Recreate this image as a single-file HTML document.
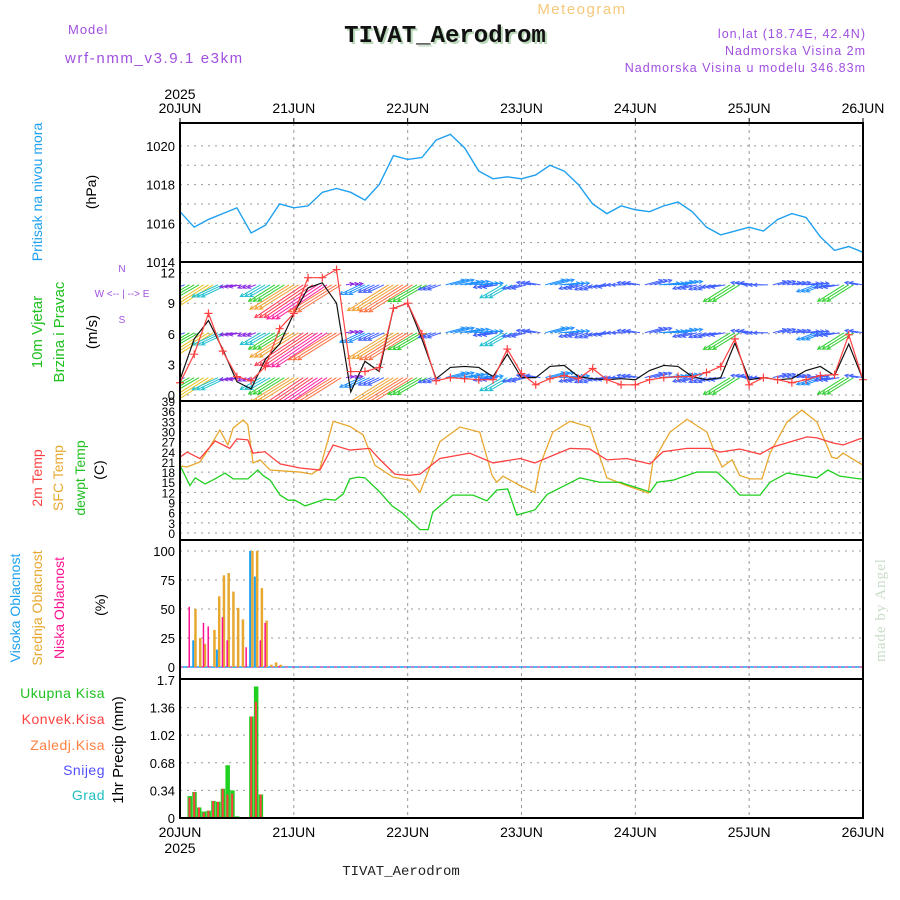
<!DOCTYPE html>
<html><head><meta charset="utf-8"><style>
body{margin:0;background:#fff;}
svg{display:block;font-family:"Liberation Sans",sans-serif;}
</style></head><body>
<svg id="c" width="900" height="900" viewBox="0 0 900 900" xmlns="http://www.w3.org/2000/svg">
<defs><clipPath id="wclip"><rect x="180" y="262" width="683" height="139"/></clipPath></defs>
<text x="582" y="14" font-size="15" fill="#f5c87a" text-anchor="middle" letter-spacing="1.5">Meteogram</text>
<text x="447" y="44" font-size="24" font-weight="bold" font-family="Liberation Mono,monospace" fill="#b8d8b8" text-anchor="middle">TIVAT_Aerodrom</text>
<text x="445" y="42" font-size="24" font-weight="bold" font-family="Liberation Mono,monospace" fill="#111" text-anchor="middle">TIVAT_Aerodrom</text>
<text x="68" y="34" font-size="13" fill="#a050e0" letter-spacing="1">Model</text>
<text x="65" y="63" font-size="15" fill="#a050e0" letter-spacing="1.6">wrf-nmm_v3.9.1 e3km</text>
<text x="866" y="38" font-size="12.5" fill="#a050e0" text-anchor="end" letter-spacing="1">lon,lat (18.74E, 42.4N)</text>
<text x="866" y="55" font-size="12.5" fill="#a050e0" text-anchor="end" letter-spacing="1">Nadmorska Visina 2m</text>
<text x="866" y="72" font-size="12.5" fill="#a050e0" text-anchor="end" letter-spacing="1">Nadmorska Visina u modelu 346.83m</text>
<text x="401" y="875" font-size="14" font-family="Liberation Mono,monospace" fill="#222" text-anchor="middle">TIVAT_Aerodrom</text>
<text transform="translate(885,610) rotate(-90)" font-size="15" font-family="Liberation Serif,serif" fill="#c8dcc8" text-anchor="middle" letter-spacing="1">made by Angel</text>
<g id="g"></g>
</svg>
<script>
// ---- data (time in hours from 20JUN 00) ----
const dayLabels=["20JUN","21JUN","22JUN","23JUN","24JUN","25JUN","26JUN"];
const pressTimes=[0,3,6,9,12,15,18,21,24,27,30,33,36,39,42,45,48,51,54,57,60,63,66,69,72,75,78,81,84,87,90,93,96,99,102,105,108,111,114,117,120,123,126,129,132,135,138,141,144];
const pressure=[1016.6,1015.8,1016.2,1016.5,1016.8,1015.5,1015.9,1017.0,1016.8,1016.9,1017.6,1017.8,1017.6,1017.2,1018.0,1019.5,1019.3,1019.4,1020.3,1020.6,1019.9,1018.7,1018.3,1018.4,1018.3,1018.5,1019.0,1018.7,1018.0,1017.0,1016.5,1016.9,1016.7,1016.6,1016.9,1017.1,1016.6,1015.8,1015.4,1015.6,1015.8,1015.6,1016.2,1016.5,1016.3,1015.3,1014.6,1014.8,1014.5];
const pressTicks=[1014,1016,1018,1020];
const windSpeed=[1.5,5.5,7.3,4.5,1.3,0.6,3.5,5,8,10.5,11,9,0.3,3.3,2.3,8.5,9,5.5,1.6,2.7,2.8,2.7,1.8,4.0,1.7,1.7,2.8,2.9,1.8,1.6,1.5,1.6,1.5,2.4,2.9,2.8,1.8,1.5,1.7,5.1,1.5,1.7,1.5,1.6,2.4,2.8,1.9,5,1.5];
const windGust=[1.2,4,8,4.3,1.8,1.4,2.8,6.5,8,11.5,11.5,12.3,2.3,2.3,2.7,8.5,9,6,1.4,1.7,1.6,1.5,1.5,4.5,2.1,1.0,1.6,1.9,1.6,2.6,1.5,1.0,1.0,1.5,1.7,1.8,1.8,2.2,2.8,5.5,1.0,1.7,1.5,1.2,1.5,1.9,2.0,5.9,1.5];
const windDir=[200,210,212,205,190,200,210,212,212,214,214,212,10,205,205,212,212,210,200,15,10,5,190,210,195,170,15,5,195,200,190,180,170,15,5,10,195,200,190,212,170,180,15,10,5,200,190,212,170];
const windTicks=[0,3,6,9,12];
const t2Times=[0,1.5,4.2,7.4,10.5,12,14.3,15.4,17.9,21.1,25.3,29.5,32.3,35.8,40,42.2,45.3,48.1,50.6,54.8,61.1,66,71.7,74.8,82.2,86.4,90,94.2,99.1,101.8,106.9,111.7,113.8,118,122.3,125,132.2,134.3,137.7,139.8,143.3,144];
const t2=[22.4,23.9,22,27.2,25,27.8,27.5,23.6,24,20.4,19.2,18.6,26,24.5,25,21.6,17.4,17,17.4,22,23.6,20.7,22,20.7,25,24.8,21.6,22,20.4,24,25,25,23.9,24.8,23.3,25.4,28.4,28.1,26.6,26,27.8,28];
const sfcTimes=[0,1.5,4.2,5.9,8.4,10.1,11.2,13.3,14.3,15.4,16.9,19,22.1,25.3,27.8,29.5,32.3,35.8,38.6,41.1,44.9,48.5,50.6,54.8,59,63.2,65.8,66.8,68.1,71.7,74.8,75.9,78.6,82.2,86.4,90,94.2,98.7,99.7,103.3,106.9,111.1,112.4,114.3,116.4,118,120.2,122.7,124.4,128,131.1,134.3,137.4,138.5,139.8,144];
const sfcTemp=[19.8,19.5,21,24.5,30.4,26,31,33.4,32,20.7,21.6,18.6,18.3,18,17.4,19,33,31.5,29,20,16.5,15.6,12,27,31.3,29.8,17,15,16.8,14,12,20,29.8,33,31.3,16.3,14,11.8,21,29.8,33.6,29.8,25,19.5,21.6,17,16,16,23.6,32.8,36.3,32.8,22.4,22,23.6,20];
const dewTimes=[0,2.1,3.2,5.3,7.4,9.5,11.2,14.3,16.4,17.5,19,21.1,22.8,24.2,26.4,30.6,32.7,34.4,35.8,37.5,39,42.2,44.7,46.8,50.6,52.3,53.3,57.5,61.8,64.7,66.8,69.1,71,74.8,77.4,82.2,84.3,88.5,92.8,99.1,100.6,103.9,109,113.2,115.9,118,122.3,124.4,128,134.3,136.6,139.1,143.3,144];
const dewTemp=[20,14,16.3,14.5,16,17.7,16,16,18.6,17,15.6,11.2,9.7,9.7,8,10,9.7,11.5,16,16.5,16.3,12,8,6,1,1,6.2,11.2,11.2,9.5,12.7,13,5.3,6.8,11.4,14.8,16.3,15,15,12.1,15,15.6,18,18,14.5,11.2,11.2,15,17.7,16.3,18.6,16.8,16,16];
const tempTicks=[0,3,6,9,12,15,18,21,24,27,30,33,36,39];
const cloudHours=[0,1,2,3,4,5,6,7,8,9,10,11,12,13,14,15,16,17,18,19,20,21,22,23,24];
const cloudHigh=[0,0,0,23,0,0,0,0,15,0,0,0,0,0,0,100,78,0,0,0,0,0,0,0,0];
const cloudMid=[0,0,0,50,25,20,0,32,61,79,81,65,51,41,0,100,100,68,40,2,4,2,0,0,0];
const cloudLow=[0,0,52,0,0,38,35,0,0,43,23,0,0,0,17,0,0,23,38,0,0,1,0,0,0];
const cloudTicks=[0,25,50,75,100];
const precipHours=[2,3,4,5,6,7,8,9,10,11,12,14,15,16,17,18];
const precipTotal=[0.27,0.32,0.13,0.08,0.09,0.21,0.20,0.36,0.65,0.34,0.02,0.01,1.25,1.62,0.29,0.01];
const precipConv=[0.25,0.32,0.13,0.07,0.09,0.21,0.20,0.36,0.29,0.30,0,0.01,1.25,1.43,0.29,0];
const precipTicks=[0,0.34,0.68,1.02,1.36,1.7];

// ---- axes ----
const L=180,R=863;
const X=h=>L+h*(R-L)/144;
const yP=v=>262-(v-1014)*19.35;
const yW=v=>395-v*10.2;
const yT=v=>533-v*3.385;
const yC=v=>667-v*1.16;
const yR=v=>818-v*81.2;
const NS="http://www.w3.org/2000/svg";
const G=document.getElementById('g');
function mk(tag,at,name,parent){const e=document.createElementNS(NS,tag);for(const k in at)e.setAttribute(k,at[k]);


(parent||G).appendChild(e);return e;}
function txt(x,y,s,at,name){const e=mk('text',Object.assign({x:x,y:y},at),name);e.textContent=s;return e;}
function rtxt(x,y,s,col,name,size){const e=mk('text',{transform:`translate(${x},${y}) rotate(-90)`,'font-size':size||14,fill:col,'text-anchor':'middle'},name);e.textContent=s;return e;}
const panels=[[123,262],[262,401],[401,540],[540,679],[679,818]];
function hgrid(y,top,bot,name){ if(y>top+1&&y<bot-1) mk('line',{x1:L,x2:R,y1:y,y2:y,stroke:'#999','stroke-dasharray':'2,5'},name);}
panels.forEach((p,i)=>{for(let d=1;d<6;d++)mk('line',{x1:X(d*24),x2:X(d*24),y1:p[0],y2:p[1],stroke:'#999','stroke-dasharray':'3,4'},'day-grid');});
pressTicks.forEach(v=>{hgrid(yP(v),123,262,'pressure-grid');txt(175,yP(v)+5,v,{'font-size':13,'text-anchor':'end'},'pressure-tick');});
hgrid(yP(1015),123,262,'pressure-grid');hgrid(yP(1017),123,262,'pressure-grid');hgrid(yP(1019),123,262,'pressure-grid');
windTicks.forEach(v=>{hgrid(yW(v),262,401,'wind-grid');txt(175,yW(v)+5,v,{'font-size':13,'text-anchor':'end'},'wind-tick');});
tempTicks.forEach(v=>{hgrid(yT(v),401,540,'temp-grid');txt(175,yT(v)+5,v,{'font-size':12,'text-anchor':'end'},'temp-tick');});
cloudTicks.forEach(v=>{hgrid(yC(v),540,679,'cloud-grid');txt(175,yC(v)+5,v,{'font-size':13,'text-anchor':'end'},'cloud-tick');});
precipTicks.forEach(v=>{hgrid(yR(v),679,818,'precip-grid');txt(175,yR(v)+5,String(v),{'font-size':13,'text-anchor':'end'},'precip-tick');});
dayLabels.forEach((d,i)=>{txt(X(i*24),113,d,{'font-size':14,'text-anchor':'middle'},'top-date-label');txt(X(i*24),837,d,{'font-size':14,'text-anchor':'middle'},'bottom-date-label');
mk('line',{x1:X(i*24),x2:X(i*24),y1:118,y2:123,stroke:'#000'},'date-tick');});
txt(180,99,'2025',{'font-size':14,'text-anchor':'middle'},'top-year');
txt(180,853,'2025',{'font-size':14,'text-anchor':'middle'},'bottom-year');
function line(ts,vs,yf,col,name,w){mk('polyline',{points:ts.map((t,i)=>X(t)+','+yf(vs[i])).join(' '),fill:'none',stroke:col,'stroke-width':w||1.3},name);}
line(pressTimes,pressure,yP,'#1ea0f0','pressure-line',1.4);
// wind arrows (each 3h record drawn at its three hourly slots), clipped to panel
function wcol(s){return s<1.5?'#8a2be2':s<2.5?'#4060ff':s<3.5?'#1e90ff':s<5?'#20c0d0':s<6?'#30d030':s<7?'#a0d020':s<8?'#e8c020':s<9?'#f0a030':s<10?'#ff7040':s<11?'#ff3a50':'#ff20a0';}
const WG=mk('g',{'clip-path':'url(#wclip)'},'wind-arrows');
[10.8,6.1,1.7].forEach(lv=>{windSpeed.forEach((s,i)=>{for(let k=0;k<3;k++){const t=pressTimes[i]+k-1;if(t<0||t>144)continue;
const x=X(t),y=yW(lv);const a=windDir[i]*Math.PI/180;const len=6+s*5;
const x2=x+len*Math.cos(a),y2=y-len*Math.sin(a);const c=wcol(s);
mk('line',{x1:x,y1:y,x2:x2,y2:y2,stroke:c,'stroke-width':1},'wind-arrow',WG);
const b1=a+Math.PI*0.85,b2=a-Math.PI*0.85;
mk('polyline',{points:`${x2+4*Math.cos(b1)},${y2-4*Math.sin(b1)} ${x2},${y2} ${x2+4*Math.cos(b2)},${y2-4*Math.sin(b2)}`,fill:'none',stroke:c,'stroke-width':1},'wind-arrow-head',WG);}});});
line(pressTimes,windSpeed,yW,'#111','wind-speed-line',1.2);
line(pressTimes,windGust,yW,'#ff4040','wind-gust-line',1.2);
windGust.forEach((v,i)=>{const x=X(pressTimes[i]),y=yW(v);mk('path',{d:`M${x-4} ${y}H${x+4}M${x} ${y-4}V${y+4}`,stroke:'#ff4040','stroke-width':1.2},'wind-gust-marker');});
line(sfcTimes,sfcTemp,yT,'#e8a830','sfc-temp-line');
line(t2Times,t2,yT,'#ff4040','temp-2m-line');
line(dewTimes,dewTemp,yT,'#20d020','dewpoint-line');
mk('line',{x1:L,x2:R,y1:yC(0),y2:yC(0),stroke:'#1ea0f0','stroke-width':1.5},'cloud-baseline');
mk('line',{x1:L,x2:R,y1:yC(0),y2:yC(0),stroke:'#ff3090','stroke-width':1,'stroke-dasharray':'3,4'},'cloud-baseline-low');
cloudHours.forEach((h,i)=>{const x=X(h);
if(cloudHigh[i]>0)mk('rect',{x:x-2,y:yC(cloudHigh[i]),width:2,height:yC(0)-yC(cloudHigh[i]),fill:'#1ea0f0'},'cloud-high-bar');
if(cloudMid[i]>0)mk('rect',{x:x,y:yC(cloudMid[i]),width:2.5,height:yC(0)-yC(cloudMid[i]),fill:'#e8a830'},'cloud-mid-bar');
if(cloudLow[i]>0)mk('rect',{x:x-1,y:yC(cloudLow[i]),width:1.5,height:yC(0)-yC(cloudLow[i]),fill:'#ff1090'},'cloud-low-bar');});
precipHours.forEach((h,i)=>{const x=X(h);
mk('rect',{x:x-2,y:yR(precipTotal[i]),width:4.5,height:818-yR(precipTotal[i]),fill:'#20d020'},'precip-total-bar');
if(precipConv[i]>0)mk('rect',{x:x-1,y:yR(precipConv[i]),width:2,height:818-yR(precipConv[i]),fill:'#ff4040'},'precip-conv-bar');});
panels.forEach(p=>mk('rect',{x:L,y:p[0],width:R-L,height:p[1]-p[0],fill:'none',stroke:'#000','stroke-width':2},'panel-frame'));
rtxt(42,192,'Pritisak na nivou mora','#1ea0f0','pressure-title');
rtxt(96,192,'(hPa)','#000','pressure-unit');
rtxt(42,332,'10m Vjetar','#20c020','wind-title-1',15);
rtxt(64,332,'Brzina i Pravac','#20c020','wind-title-2',15);
rtxt(97,332,'(m/s)','#000','wind-unit',15);
txt(122,272,'N',{'font-size':10,fill:'#a050e0','text-anchor':'middle'},'compass-n');
txt(122,297,'W  <-- | -->  E',{'font-size':10,fill:'#a050e0','text-anchor':'middle'},'compass-we');
txt(122,323,'S',{'font-size':10,fill:'#a050e0','text-anchor':'middle'},'compass-s');
rtxt(42,478,'2m Temp','#ff4040','temp-2m-title');
rtxt(63,478,'SFC Temp','#e8a830','sfc-temp-title');
rtxt(85,478,'dewpt Temp','#20c020','dewpoint-title');
rtxt(104,470,'(C)','#000','temp-unit');
rtxt(20,608,'Visoka Oblacnost','#1ea0f0','cloud-high-title');
rtxt(42,608,'Srednja Oblacnost','#e8a830','cloud-mid-title');
rtxt(64,608,'Niska Oblacnost','#ff1090','cloud-low-title');
rtxt(105,605,'(%)','#000','cloud-unit');
[['Ukupna Kisa','#20c020',698],['Konvek.Kisa','#ff4040',724],['Zaledj.Kisa','#ff8040',750],['Snijeg','#5050ff',775],['Grad','#20c0c0',800]].forEach(a=>txt(105,a[2],a[0],{'font-size':14,fill:a[1],'text-anchor':'end','letter-spacing':0.5},'precip-legend-entry'));
rtxt(123,750,'1hr Precip (mm)','#000','precip-title',15);
</script>
</body></html>
